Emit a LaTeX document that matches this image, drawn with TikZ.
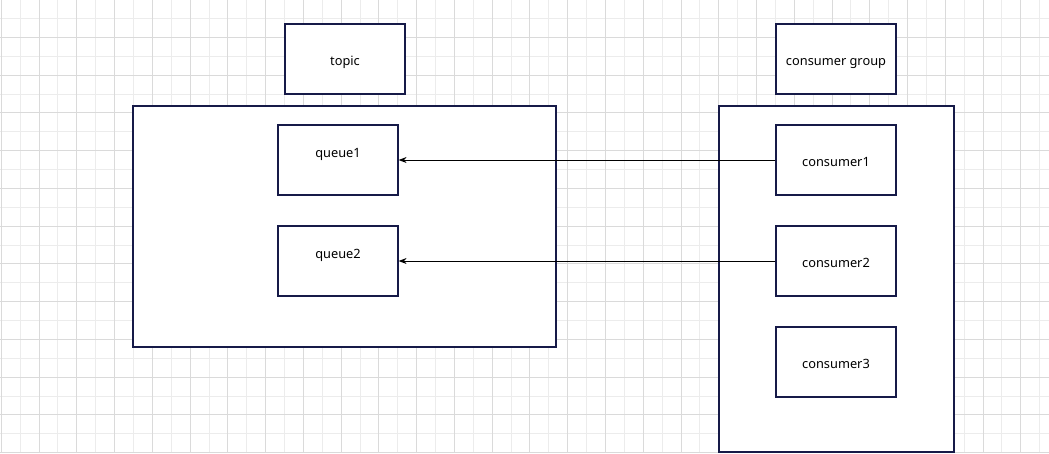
\documentclass[tikz,border=0pt]{standalone}
\usepackage{fontspec}
\setmainfont{Noto Sans}
\usetikzlibrary{arrows.meta}
\definecolor{navy}{RGB}{22,26,72}
\definecolor{gridmaj}{RGB}{218,218,218}
\definecolor{gridmin}{RGB}{236,236,236}
\tikzset{
  box/.style={draw=navy, line width=1.2pt, fill=white, minimum width=120pt, minimum height=70pt, inner sep=0pt},
  bigbox/.style={draw=navy, line width=1.2pt, fill=white},
  lbl/.style={font=\fontsize{12.8}{15}\selectfont, text=black, inner sep=0pt, anchor=base},
  conn/.style={black, line width=0.9pt, -{Stealth[length=8pt,width=6pt]}}
}
\begin{document}
\begin{tikzpicture}[x=1pt,y=-1pt]
\useasboundingbox (0,0) rectangle (1049,453);
\fill[white] (0,0) rectangle (1049,453);
% grid
\foreach \i in {0,...,27} {
  \draw[gridmin, line width=0.8pt] ({20.12+37.76*\i},0) -- ({20.12+37.76*\i},453);
}
\foreach \i in {0,...,11} {
  \draw[gridmin, line width=0.8pt] (0,{18.38+37.76*\i}) -- (1049,{18.38+37.76*\i});
}
\foreach \i in {0,...,27} {
  \draw[gridmaj, line width=0.8pt] ({1.24+37.76*\i},0) -- ({1.24+37.76*\i},453);
}
\foreach \i in {0,...,12} {
  \draw[gridmaj, line width=0.8pt] (0,{-0.5+37.76*\i}) -- (1049,{-0.5+37.76*\i});
}
% topic side
\node[box] (topic) at (345,59) {};
\node[lbl] (topict) at (345,65.5) {topic};
\draw[bigbox] (133,106) rectangle (556,347);
\node[box] (q1) at (338,160) {};
\node[lbl] (q1t) at (338,157.5) {queue1};
\node[box] (q2) at (338,261) {};
\node[lbl] (q2t) at (338,258.5) {queue2};
% consumer side
\node[box] (cg) at (836,59) {};
\node[lbl] (cgt) at (836,65.5) {consumer group};
\draw[bigbox] (719,106) rectangle (954,452);
\node[box] (c1) at (836,160) {};
\node[lbl] (c1t) at (836,166.5) {consumer1};
\node[box] (c2) at (836,261) {};
\node[lbl] (c2t) at (836,267.5) {consumer2};
\node[box] (c3) at (836,362) {};
\node[lbl] (c3t) at (836,368.5) {consumer3};
% connectors
\draw[conn] (c1.west) -- (q1.east);
\draw[conn] (c2.west) -- (q2.east);
\end{tikzpicture}
\end{document}
